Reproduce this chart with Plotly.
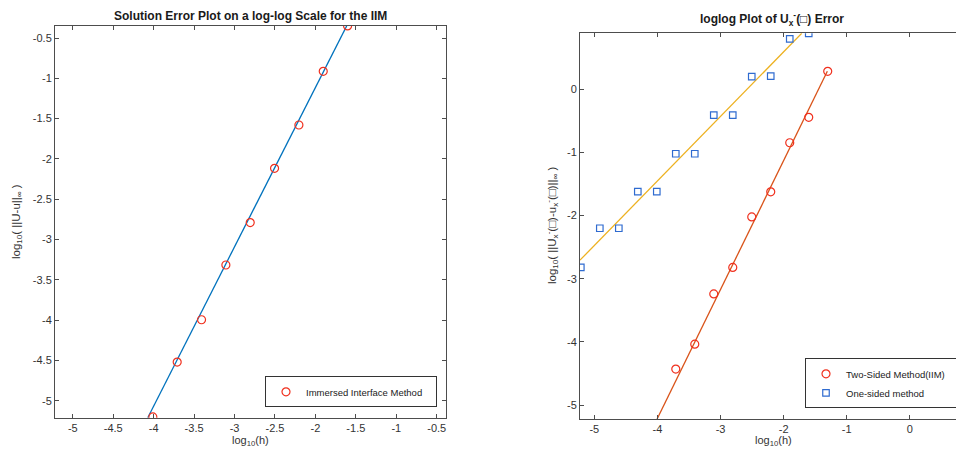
import plotly.graph_objects as go

# ---- Left panel data (IIM solution error) ----
iim_logh = [-1.602, -1.903, -2.204, -2.505, -2.806, -3.107, -3.408, -3.709, -4.010]
iim_logerr = [-0.35, -0.913, -1.579, -2.117, -2.79, -3.316, -3.995, -4.52, -5.2]
iim_fit_x = [-4.073, -1.613]
iim_fit_y = [-5.21, -0.35]

# ---- Right panel data (derivative error) ----
two_logh = [-1.301, -1.602, -1.903, -2.204, -2.505, -2.806, -3.107, -3.408, -3.709]
two_logerr = [0.285, -0.444, -0.846, -1.623, -2.02, -2.82, -3.24, -4.036, -4.43]
two_fit_x = [-4.005, -1.307]
two_fit_y = [-5.22, 0.285]

one_logh = [-5.214, -4.913, -4.612, -4.311, -4.010, -3.709, -3.408, -3.107, -2.806, -2.505, -2.204, -1.903, -1.602]
one_logerr = [-2.82, -2.2, -2.2, -1.62, -1.62, -1.02, -1.02, -0.41, -0.41, 0.20, 0.21, 0.80, 0.887]
one_fit_x = [-5.227, -1.713]
one_fit_y = [-2.705, 0.887]

# ---- tick labels ----
left_xticks = [-5, -4.5, -4, -3.5, -3, -2.5, -2, -1.5, -1, -0.5]
left_xtext = ["-5", "-4.5", "-4", "-3.5", "-3", "-2.5", "-2", "-1.5", "-1", "-0.5"]
left_yticks = [-5, -4.5, -4, -3.5, -3, -2.5, -2, -1.5, -1, -0.5]
left_ytext = ["-5", "-4.5", "-4", "-3.5", "-3", "-2.5", "-2", "-1.5", "-1", "-0.5"]
right_xticks = [-5, -4, -3, -2, -1, 0]
right_xtext = ["-5", "-4", "-3", "-2", "-1", "0"]
right_yticks = [-5, -4, -3, -2, -1, 0]
right_ytext = ["-5", "-4", "-3", "-2", "-1", "0"]

W, H = 956, 452
FONT = "Liberation Sans, Arial, sans-serif"
AX = "#4d4d4d"
TXT = "#333333"
RED = "#F0301E"
BLUE = "#2F6BD0"
PAD = "\u00a0\u00a0\u00a0"

fig = go.Figure()

# left
fig.add_trace(go.Scatter(x=iim_fit_x, y=iim_fit_y, mode="lines",
                         line=dict(color="#0072BD", width=1.3), showlegend=False,
                         xaxis="x", yaxis="y"))
fig.add_trace(go.Scatter(x=iim_logh, y=iim_logerr, mode="markers", name="Immersed Interface Method" + PAD,
                         marker=dict(symbol="circle-open", size=8, color=RED, line=dict(width=1.2)),
                         xaxis="x", yaxis="y", legend="legend"))
# right
fig.add_trace(go.Scatter(x=two_fit_x, y=two_fit_y, mode="lines",
                         line=dict(color="#D95319", width=1.3), showlegend=False,
                         xaxis="x2", yaxis="y2"))
fig.add_trace(go.Scatter(x=one_fit_x, y=one_fit_y, mode="lines",
                         line=dict(color="#EDB120", width=1.3), showlegend=False,
                         xaxis="x2", yaxis="y2"))
fig.add_trace(go.Scatter(x=two_logh, y=two_logerr, mode="markers", name="Two-Sided Method(IIM)" + PAD,
                         marker=dict(symbol="circle-open", size=8, color=RED, line=dict(width=1.2)),
                         xaxis="x2", yaxis="y2", legend="legend2"))
fig.add_trace(go.Scatter(x=one_logh, y=one_logerr, mode="markers", name="One-sided method",
                         marker=dict(symbol="square-open", size=6.5, color=BLUE, line=dict(width=1.2)),
                         xaxis="x2", yaxis="y2", legend="legend2"))

common_ax = dict(showline=True, linecolor=AX, linewidth=1, ticks="inside", ticklen=4,
                 tickcolor=AX, tickfont=dict(family=FONT, size=11, color=TXT),
                 showgrid=False, zeroline=False, automargin=False)

ann = dict(xref="paper", yref="paper", showarrow=False, xanchor="center", yanchor="middle")

fig.update_layout(
    width=W, height=H,
    margin=dict(l=0, r=0, t=0, b=0, autoexpand=False),
    paper_bgcolor="white", plot_bgcolor="white",
    font=dict(family=FONT, color=TXT),
    xaxis=dict(domain=[55 / W, 446 / W], range=[-5.22, -0.385], tickvals=left_xticks,
               ticktext=left_xtext, mirror="ticks", anchor="y", **common_ax),
    yaxis=dict(domain=[(H - 417.7) / H, (H - 26) / H], range=[-5.21, -0.351], tickvals=left_yticks,
               ticktext=left_ytext, mirror="ticks", anchor="x", **common_ax),
    xaxis2=dict(domain=[580 / W, 1.0], range=[-5.227, 0.732], tickvals=right_xticks,
                ticktext=right_xtext, mirror="ticks", anchor="y2", **common_ax),
    yaxis2=dict(domain=[(H - 419) / H, (H - 33.3) / H], range=[-5.22, 0.887], tickvals=right_yticks,
                ticktext=right_ytext, mirror=False, anchor="x2", **common_ax),
    legend=dict(x=265 / W, y=(H - 407.3) / H, xanchor="left", yanchor="bottom",
                bordercolor=TXT, borderwidth=1, bgcolor="white",
                font=dict(family=FONT, size=9.5, color="#1a1a1a"), itemwidth=30,
                tracegroupgap=0),
    legend2=dict(x=805 / W, y=(H - 408.3) / H, xanchor="left", yanchor="bottom",
                 bordercolor=TXT, borderwidth=1, bgcolor="white",
                 font=dict(family=FONT, size=9.5, color="#1a1a1a"), itemwidth=30,
                 tracegroupgap=0),
    annotations=[
        dict(text="<b>Solution Error Plot on a log-log Scale for the IIM</b>", x=251 / W, y=(H - 16) / H,
             font=dict(size=12, color="#1a1a1a"), **ann),
        dict(text="<b>loglog Plot of U<sub>x</sub><sup>-</sup>(□) Error</b>", x=772 / W, y=(H - 19) / H,
             font=dict(size=12, color="#1a1a1a"), **ann),
        dict(text="log<sub>10</sub>(h)", x=251 / W, y=(H - 441) / H, font=dict(size=11), **ann),
        dict(text="log<sub>10</sub>(h)", x=773 / W, y=(H - 441) / H, font=dict(size=11), **ann),
        dict(text="log<sub>10</sub>( ||U-u||<sub>∞</sub> )", x=17 / W, y=(H - 222) / H,
             textangle=-90, font=dict(size=11.5), **ann),
        dict(text="log<sub>10</sub>( ||U<sub>x</sub><sup>-</sup>(□)-u<sub>x</sub><sup>-</sup>(□)||<sub>∞</sub> )",
             x=552 / W, y=(H - 226) / H, textangle=-90, font=dict(size=11.5), **ann),
    ],
)

fig.write_html("out.html", config={"displayModeBar": False},
               post_script="document.body.style.margin='0';document.body.style.padding='0';")
